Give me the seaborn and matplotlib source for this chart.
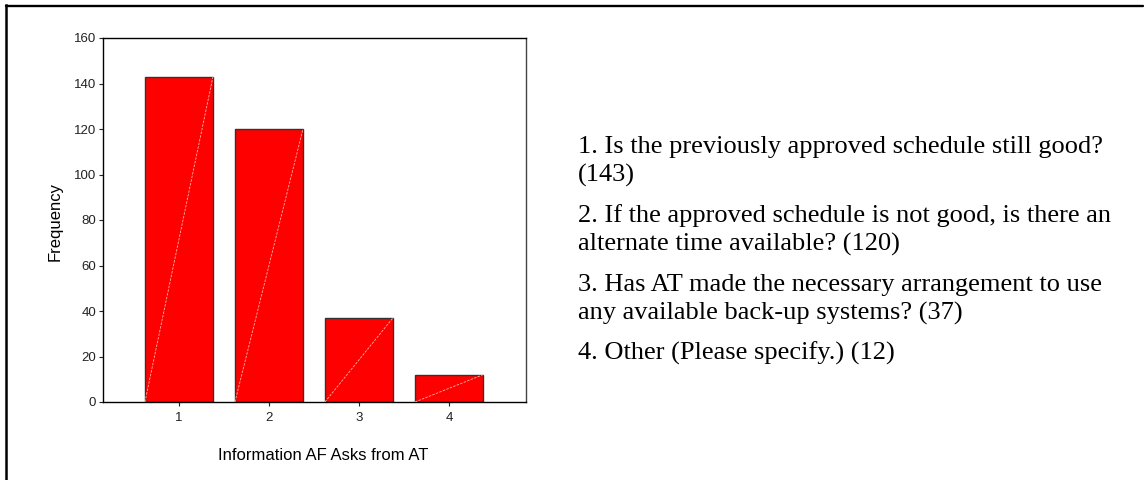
import matplotlib
matplotlib.use("Agg")
import matplotlib.pyplot as plt
import seaborn as sns
import pandas as pd
from matplotlib.lines import Line2D

# Chart data
categories = ["1", "2", "3", "4"]
frequencies = [143, 120, 37, 12]
questions = [
    "Is the previously approved schedule still good?\n",
    "If the approved schedule is not good, is there an\nalternate time available? ",
    "Has AT made the necessary arrangement to use\nany available back-up systems? ",
    "Other (Please specify.) ",
]
y_ticks = [0, 20, 40, 60, 80, 100, 120, 140, 160]


def main():
    sns.set_style("white")
    plt.rcParams["font.family"] = ["Liberation Sans", "DejaVu Sans"]
    plt.rcParams["text.color"] = "black"
    plt.rcParams["axes.labelcolor"] = "black"
    plt.rcParams["xtick.color"] = "#222222"
    plt.rcParams["ytick.color"] = "#222222"

    df = pd.DataFrame({"Answer": categories, "Frequency": frequencies})

    fig = plt.figure(figsize=(11.44, 4.8), dpi=100)
    ax = fig.add_axes([103 / 1144, 1 - 402 / 480, 423 / 1144, 364 / 480])

    sns.barplot(data=df, x="Answer", y="Frequency", color="#ff0000", saturation=1,
                width=0.756, edgecolor="#333333", linewidth=1.0, ax=ax)

    # light diagonal line inside each bar, corner to corner
    for bar in ax.patches:
        x0 = bar.get_x()
        x1 = x0 + bar.get_width()
        ax.plot([x0, x1], [0, bar.get_height()], color="#ffb3b3", lw=0.6,
                ls=(0, (3, 1.5)), zorder=3)

    ax.set_xlim(-0.844, 3.856)
    ax.set_ylim(0, 160)
    ax.set_yticks(y_ticks)
    ax.tick_params(axis="both", which="major", labelsize=9.5, length=3, width=0.8,
                   direction="out", pad=2, left=True, bottom=True)
    ax.tick_params(axis="x", pad=4)

    for side in ["left", "bottom", "top"]:
        ax.spines[side].set_color("black")
        ax.spines[side].set_linewidth(1.0)
    ax.spines["right"].set_color("#444444")
    ax.spines["right"].set_linewidth(1.0)

    ax.set_xlabel("Information AF Asks from AT", fontsize=12)
    ax.set_ylabel("Frequency", fontsize=12)
    ax.xaxis.set_label_coords(0.52, -0.125)
    ax.yaxis.set_label_coords(-0.095, 0.495)

    # answer list on the right, one text per printed line
    first_baselines = [153, 222, 291, 360]
    line_step = 29
    for cat, q, freq, yb in zip(categories, questions, frequencies, first_baselines):
        lines = f"{cat}. {q}({freq})".split("\n")
        for k, line in enumerate(lines):
            fig.text(578 / 1144, 1 - (yb + k * line_step) / 480, line,
                     family=["Liberation Serif", "DejaVu Serif"], fontsize=19,
                     va="baseline", ha="left", color="black")

    # outer frame (left and top edges)
    fig.add_artist(Line2D([6 / 1144, 6 / 1144], [0, 1 - 5 / 480], transform=fig.transFigure,
                          color="black", lw=1.8, solid_capstyle="projecting"))
    fig.add_artist(Line2D([6 / 1144, 1143 / 1144], [1 - 6.2 / 480, 1 - 6.2 / 480],
                          transform=fig.transFigure, color="black", lw=1.7))

    fig.savefig("out.png", dpi=100)
    plt.close(fig)


if __name__ == "__main__":
    main()
